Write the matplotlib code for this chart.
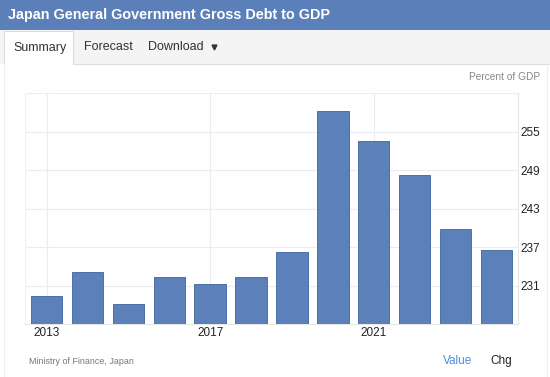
import matplotlib
matplotlib.use("Agg")
import matplotlib.pyplot as plt
from matplotlib.patches import Rectangle
from matplotlib.lines import Line2D

years = [2013, 2014, 2015, 2016, 2017, 2018, 2019, 2020, 2021, 2022, 2023, 2024]
values = [229.4, 233.2, 228.2, 232.3, 231.3, 232.3, 236.3, 258.3, 253.6, 248.2, 239.9, 236.6]
xtick_years = [2013, 2017, 2021]
yticks = [231, 237, 243, 249, 255]

W, H = 550, 377
plt.rcParams['font.family'] = ['Liberation Sans', 'DejaVu Sans']
fig = plt.figure(figsize=(W / 100, H / 100), dpi=100)
fig.patch.set_facecolor('white')

def fx(px):
    return px / W

def fy(py):
    return 1 - py / H

def rect(x0, y0, x1, y1, **kw):
    fig.patches.append(Rectangle((fx(x0), fy(y1)), fx(x1) - fx(x0), fy(y0) - fy(y1),
                                 transform=fig.transFigure, **kw))

def line(xs, ys, **kw):
    fig.lines.append(Line2D([fx(v) for v in xs], [fy(v) for v in ys],
                            transform=fig.transFigure, **kw))

# header
rect(0, 0, W, 30, facecolor='#5a7fb9', edgecolor='none')
fig.text(fx(8), fy(15.5), 'Japan General Government Gross Debt to GDP', color='white',
         fontsize=10.4, fontweight='bold', va='center', ha='left')

# tab row
rect(0, 30, W, 64, facecolor='#f4f4f4', edgecolor='none')
rect(4, 31, 73, 66, facecolor='white', edgecolor='none')
line([4, 4, 73, 73], [66, 31, 31, 64], color='#dddddd', lw=0.8)
line([73, W], [64, 64], color='#dddddd', lw=0.8)
line([4, 4], [64, H], color='#eeeeee', lw=0.8)
line([547, 547], [64, H], color='#eeeeee', lw=0.8)
fig.text(fx(13), fy(47.5), 'Summary', color='#333333', fontsize=9, va='center')
fig.text(fx(84), fy(47.5), 'Forecast', color='#333333', fontsize=9, va='center')
fig.text(fx(148), fy(47.5), 'Download', color='#333333', fontsize=9, va='center')
line([214], [47], marker='v', markersize=3.5, color='#333333', linestyle='none')

fig.text(fx(540), fy(77), 'Percent of GDP', color='#888888', fontsize=7.3,
         ha='right', va='center')

# chart
ax = fig.add_axes([fx(25), fy(324.3), fx(518) - fx(25), fy(93.3) - fy(324.3)])
x = list(range(len(years)))
ax.bar(x, values, width=0.77, color='#5b80ba', edgecolor='#4c6fa6', linewidth=0.7,
       zorder=3)
ax.set_xlim(-0.53, len(years) - 0.47)
ax.set_ylim(225, 261)
ax.set_yticks(yticks)
ax.set_yticklabels([str(v) for v in yticks])
ax.yaxis.tick_right()
ax.set_xticks([years.index(y) for y in xtick_years])
ax.set_xticklabels([str(y) for y in xtick_years])
ax.tick_params(axis='both', length=0, labelsize=8.5, labelcolor='#222222')
ax.tick_params(axis='y', pad=2)
ax.tick_params(axis='x', pad=2)
for yv in yticks + [261]:
    ax.axhline(yv, color='#ececec', lw=0.8, zorder=1)
for xv in ax.get_xticks():
    ax.axvline(xv, color='#ececec', lw=0.8, zorder=1)
ax.spines['top'].set_visible(False)
ax.spines['bottom'].set_color('#e6e6e6')
ax.spines['right'].set_color('#e6e6e6')
ax.spines['left'].set_color('#f0f0f0')
ax.spines['bottom'].set_linewidth(0.8)
ax.spines['right'].set_linewidth(0.8)
ax.spines['left'].set_linewidth(0.8)
ax.set_facecolor('white')

# footer
fig.text(fx(29), fy(361), 'Ministry of Finance, Japan', color='#777777', fontsize=6.4,
         va='center')
fig.text(fx(443), fy(361), 'Value', color='#4a8fd8', fontsize=8.5, va='center')
fig.text(fx(490), fy(361), 'Chg', color='#222222', fontsize=8.5, va='center')

fig.savefig('out.png', dpi=100, facecolor='white')
